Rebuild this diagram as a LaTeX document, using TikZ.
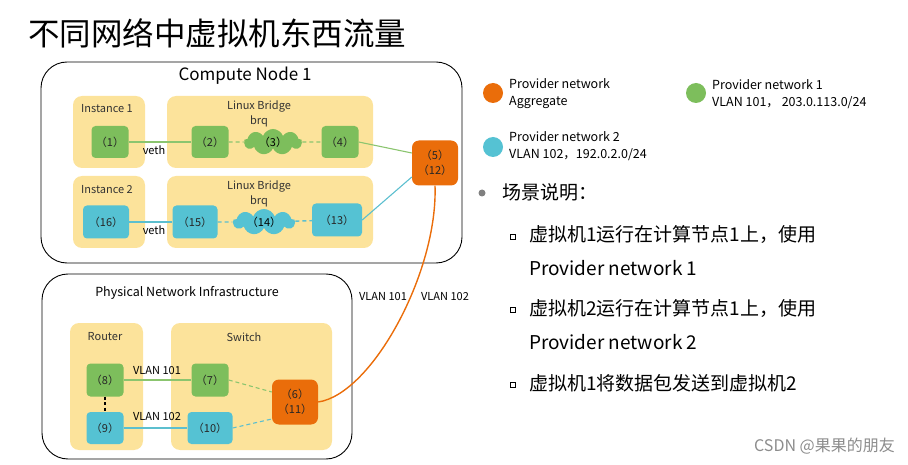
\documentclass[tikz,border=0pt]{standalone}
\usepackage{fontspec}
\setmainfont{Noto Sans CJK SC}
\usetikzlibrary{shapes.symbols}
\definecolor{yel}{HTML}{FCE39B}
\definecolor{grn}{HTML}{7DBE5C}
\definecolor{blu}{HTML}{55C2D3}
\definecolor{org}{HTML}{EA6D0A}
\definecolor{glin}{HTML}{8BC56F}
\definecolor{blin}{HTML}{5CBFCF}
\tikzset{
  fs/.style n args={2}{font=\fontsize{#1}{#2}\selectfont},
  ybox/.style={fill=yel, rounded corners=9pt, draw=none, inner sep=0},
  outer/.style={draw=black, line width=0.9pt, rounded corners=26pt, inner sep=0},
  port/.style={rounded corners=4pt, inner sep=0, fs={11}{15}, text=black!85, align=center},
  gport/.style={port, fill=grn},
  bport/.style={port, fill=blu},
  oport/.style={port, fill=org, rounded corners=7pt, minimum width=46pt, minimum height=45pt},
  cl/.style={cloud, cloud puffs=9, cloud puff arc=140, cloud ignores aspect, inner sep=0, fs={11}{13}},
  gcloud/.style={cl, fill=grn},
  bcloud/.style={cl, fill=blu},
  gline/.style={draw=glin, line width=1.4pt},
  bline/.style={draw=blin, line width=1.4pt},
  gdash/.style={draw=glin, line width=1.4pt, dash pattern=on 4pt off 3pt},
  bdash/.style={draw=blin, line width=1.4pt, dash pattern=on 4pt off 3pt},
  lbl/.style={fs={11}{15}, inner sep=1pt},
  leg/.style={fs={12.5}{17}, align=left, anchor=west, inner sep=0},
  sq/.style={draw=black, line width=1pt, minimum size=5pt, inner sep=0},
  btxt/.style={fs={19}{22}, anchor=west, inner sep=0},
}
\begin{document}
\begin{tikzpicture}[x=1pt,y=-1pt]
\useasboundingbox (0,0) rectangle (908,465);
% title
\node[fs={31.5}{34}, anchor=west, inner sep=0] (title) at (28,33) {不同网络中虚拟机东西流量};

% compute node
\node[outer, minimum width=421pt, minimum height=201pt] (cn) at (251.5,162.5) {};
\node[fs={17}{20}, inner sep=0] (cnl) at (245,76) {Compute Node 1};
\node[ybox, minimum width=72pt, minimum height=72pt] (i1) at (109,132) {};
\node[ybox, minimum width=206pt, minimum height=72pt] (lb1) at (270,132) {};
\node[ybox, minimum width=72pt, minimum height=72pt] (i2) at (109,212) {};
\node[ybox, minimum width=206pt, minimum height=72pt] (lb2) at (270,212) {};
\node[lbl, text=black!80] (i1l) at (107,109) {Instance 1};
\node[lbl, text=black!80] (i2l) at (107,190) {Instance 2};
\node[lbl, align=center, text=black!80] (lb1l) at (259,113.5) {Linux Bridge\\brq};
\node[lbl, align=center, text=black!80] (lb2l) at (259,193.5) {Linux Bridge\\brq};

\node[gport, minimum width=37pt, minimum height=32pt] (p1) at (110,142) {（1）};
\node[gport, minimum width=37pt, minimum height=32pt] (p2) at (210,142) {（2）};
\node[gcloud, minimum width=58pt, minimum height=26pt] (p3) at (273,142) {（3）};
\node[gport, minimum width=37pt, minimum height=32pt] (p4) at (340,142) {（4）};
\node[oport] (p5) at (435,163) {（5）\\（12）};
\node[bport, minimum width=46pt, minimum height=33pt] (p16) at (106,222) {（16）};
\node[bport, minimum width=45pt, minimum height=33pt] (p15) at (195,222) {（15）};
\node[bcloud, minimum width=62pt, minimum height=26pt] (p14) at (264,222) {（14）};
\node[bport, minimum width=50pt, minimum height=33pt] (p13) at (337,220) {（13）};

\path[gline] (p1) -- (p2);
\path[gdash] (p2) -- (p3);
\path[gdash] (p3) -- (p4);
\path[gline, line width=1.1pt] (p4.east) -- ([yshift=10pt]p5.west);
\path[bline] (p16) -- (p15);
\path[bdash] (p15) -- (p14);
\path[bdash] (p14) -- (p13);
\path[bline, line width=1.1pt] (p13.east) -- ([yshift=-14pt]p5.west);
\node[lbl] (veth1) at (154,150) {veth};
\node[lbl] (veth2) at (154,230) {veth};

% physical
\node[outer, minimum width=310pt, minimum height=185pt] (pn) at (197,366.5) {};
\node[fs={12.5}{15}, inner sep=0] (pnl) at (187,293) {Physical Network Infrastructure};
\node[ybox, minimum width=73pt, minimum height=127pt] (rt) at (106.5,386.5) {};
\node[ybox, minimum width=161pt, minimum height=127pt] (sw) at (251.5,386.5) {};
\node[lbl, text=black!80] (rtl) at (105,337) {Router};
\node[lbl, text=black!80] (swl) at (244,337) {Switch};
\node[gport, minimum width=37pt, minimum height=33pt] (p8) at (105,380) {（8）};
\node[bport, minimum width=37pt, minimum height=32pt] (p9) at (105,428) {（9）};
\node[gport, minimum width=37pt, minimum height=33pt] (p7) at (210,380) {（7）};
\node[bport, minimum width=45pt, minimum height=32pt] (p10) at (210,428) {（10）};
\node[oport] (p6) at (295,402) {（6）\\（11）};
\path[gline] (p8) -- (p7);
\path[bline] (p9) -- (p10);
\path[draw=black, line width=1.6pt, dash pattern=on 3pt off 2.5pt] (p8) -- (p9);
\path[gdash, line width=1.1pt] (p7.east) -- ([yshift=10pt]p6.west);
\path[bdash, line width=1.1pt] (p10.east) -- ([yshift=-17pt]p6.west);
\node[lbl] (v101) at (157,371) {VLAN 101};
\node[lbl] (v102) at (157,417) {VLAN 102};

% trunk
\path[draw=org, line width=1.4pt] (p6.east) .. controls (372,394) and (438,272) .. (p5.south);
\node[lbl] (t101) at (383,297) {VLAN 101};
\node[lbl] (t102) at (445,297) {VLAN 102};

% legend
\node[circle, fill=org, minimum size=20pt, inner sep=0] (lo) at (493,93) {};
\node[leg] (lot) at (509,94) {Provider network\\Aggregate};
\node[circle, fill=grn, minimum size=20pt, inner sep=0] (lg) at (696,93) {};
\node[leg] (lgt) at (712,94) {Provider network 1\\VLAN 101，\ 203.0.113.0/24};
\node[circle, fill=blu, minimum size=20pt, inner sep=0] (lb) at (493,147) {};
\node[leg] (lbt) at (509,146) {Provider network 2\\VLAN 102，192.0.2.0/24};

% bullets
\node[circle, fill=black!50, minimum size=7pt, inner sep=0] (b0) at (482,193) {};
\node[btxt] (b0t) at (502,192) {场景说明：};
\node[sq] (s1) at (513,237) {};
\node[btxt] (s1t) at (529,234) {虚拟机1运行在计算节点1上，使用};
\node[btxt] (s1u) at (529,268) {Provider network 1};
\node[sq] (s2) at (513,310) {};
\node[btxt] (s2t) at (529,308) {虚拟机2运行在计算节点1上，使用};
\node[btxt] (s2u) at (529,342) {Provider network 2};
\node[sq] (s3) at (513,385) {};
\node[btxt] (s3t) at (529,383) {虚拟机1将数据包发送到虚拟机2};

\node[fs={16}{18}, text=black!45, anchor=east, inner sep=0] (wm) at (895,446) {CSDN @果果的朋友};
\end{tikzpicture}
\end{document}
